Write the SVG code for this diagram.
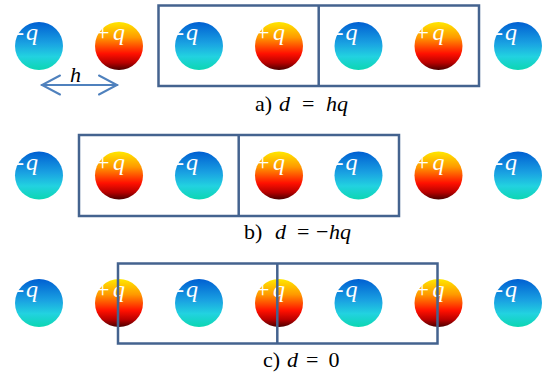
<svg xmlns="http://www.w3.org/2000/svg" width="542" height="377" viewBox="0 0 542 377" font-family="Liberation Serif" font-size="22">
<defs>
<style>
.neg{fill:url(#gBlue)}
.pos{fill:url(#gRed)}
.box{fill:none;stroke:#44638f;stroke-width:2.5}
.arr{fill:none;stroke:#4f81bd;stroke-width:2;stroke-linecap:round}
.ch{fill:#fff;font-size:24px}
.it{font-style:italic}
</style>
<linearGradient id="gBlue" x1="0" y1="0" x2="0" y2="1">
<stop offset="0" stop-color="#005fd2"/>
<stop offset="0.45" stop-color="#1aa2e2"/>
<stop offset="0.72" stop-color="#22d2e0"/>
<stop offset="1" stop-color="#0cd6b2"/>
</linearGradient>
<linearGradient id="gRed" x1="0" y1="0" x2="0" y2="1">
<stop offset="0" stop-color="#ffe800"/>
<stop offset="0.32" stop-color="#ff9a00"/>
<stop offset="0.66" stop-color="#ff1000"/>
<stop offset="0.85" stop-color="#b80000"/>
<stop offset="1" stop-color="#4a0000"/>
</linearGradient>
</defs>

<g id="row-a">
<g id="a1"><circle class="neg" cx="39" cy="46" r="24"/><text class="ch" x="16" y="40">-<tspan class="it" x="26">q</tspan></text></g>
<g id="a2"><circle class="pos" cx="119" cy="46" r="24"/><text class="ch" x="96" y="40">+<tspan class="it" x="113">q</tspan></text></g>
<g id="a3"><circle class="neg" cx="199" cy="46" r="24"/><text class="ch" x="176" y="40">-<tspan class="it" x="186">q</tspan></text></g>
<g id="a4"><circle class="pos" cx="279" cy="46" r="24"/><text class="ch" x="256" y="40">+<tspan class="it" x="273">q</tspan></text></g>
<g id="a5"><circle class="neg" cx="358.5" cy="46" r="24"/><text class="ch" x="335.5" y="40">-<tspan class="it" x="345.5">q</tspan></text></g>
<g id="a6"><circle class="pos" cx="438.5" cy="46" r="24"/><text class="ch" x="415.5" y="40">+<tspan class="it" x="432.5">q</tspan></text></g>
<g id="a7"><circle class="neg" cx="518" cy="46" r="24"/><text class="ch" x="495" y="40">-<tspan class="it" x="505">q</tspan></text></g>
</g>
<g id="row-b">
<g id="b1"><circle class="neg" cx="39" cy="175.5" r="24"/><text class="ch" x="16" y="169.5">-<tspan class="it" x="26">q</tspan></text></g>
<g id="b2"><circle class="pos" cx="119" cy="175.5" r="24"/><text class="ch" x="96" y="169.5">+<tspan class="it" x="113">q</tspan></text></g>
<g id="b3"><circle class="neg" cx="199" cy="175.5" r="24"/><text class="ch" x="176" y="169.5">-<tspan class="it" x="186">q</tspan></text></g>
<g id="b4"><circle class="pos" cx="279" cy="175.5" r="24"/><text class="ch" x="256" y="169.5">+<tspan class="it" x="273">q</tspan></text></g>
<g id="b5"><circle class="neg" cx="358.5" cy="175.5" r="24"/><text class="ch" x="335.5" y="169.5">-<tspan class="it" x="345.5">q</tspan></text></g>
<g id="b6"><circle class="pos" cx="438.5" cy="175.5" r="24"/><text class="ch" x="415.5" y="169.5">+<tspan class="it" x="432.5">q</tspan></text></g>
<g id="b7"><circle class="neg" cx="518" cy="175.5" r="24"/><text class="ch" x="495" y="169.5">-<tspan class="it" x="505">q</tspan></text></g>
</g>
<g id="row-c">
<g id="c1"><circle class="neg" cx="39" cy="303" r="24"/><text class="ch" x="16" y="297">-<tspan class="it" x="26">q</tspan></text></g>
<g id="c2"><circle class="pos" cx="119" cy="303" r="24"/><text class="ch" x="96" y="297">+<tspan class="it" x="113">q</tspan></text></g>
<g id="c3"><circle class="neg" cx="199" cy="303" r="24"/><text class="ch" x="176" y="297">-<tspan class="it" x="186">q</tspan></text></g>
<g id="c4"><circle class="pos" cx="279" cy="303" r="24"/><text class="ch" x="256" y="297">+<tspan class="it" x="273">q</tspan></text></g>
<g id="c5"><circle class="neg" cx="358.5" cy="303" r="24"/><text class="ch" x="335.5" y="297">-<tspan class="it" x="345.5">q</tspan></text></g>
<g id="c6"><circle class="pos" cx="438.5" cy="303" r="24"/><text class="ch" x="415.5" y="297">+<tspan class="it" x="432.5">q</tspan></text></g>
<g id="c7"><circle class="neg" cx="518" cy="303" r="24"/><text class="ch" x="495" y="297">-<tspan class="it" x="505">q</tspan></text></g>
</g>

<g id="cells">
<rect class="box" x="158.5" y="5.5" width="320.5" height="80.5"/>
<line class="box" x1="318.7" y1="5.5" x2="318.7" y2="86"/>
<rect class="box" x="79" y="135" width="320" height="81"/>
<line class="box" x1="238.7" y1="135" x2="238.7" y2="216"/>
<rect class="box" x="118" y="263.5" width="319.5" height="80"/>
<line class="box" x1="277.3" y1="263.5" x2="277.3" y2="343.5"/>
</g>

<g id="connectors">
<line class="arr" x1="42" y1="85" x2="117" y2="85"/>
<polyline class="arr" points="60,75.5 42,85 60,94.5"/>
<polyline class="arr" points="99,75.5 117,85 99,94.5"/>
</g>
<text class="it" x="70" y="82">h</text>

<text x="255" y="111">a)<tspan class="it" x="279">d</tspan><tspan x="302">=</tspan><tspan class="it" x="326">hq</tspan></text>
<text x="244" y="238.5">b)<tspan class="it" x="275">d</tspan><tspan x="297">=</tspan><tspan x="316">−</tspan><tspan class="it" x="329">hq</tspan></text>
<text x="263" y="366.5">c)<tspan class="it" x="287">d</tspan><tspan x="306">=</tspan><tspan x="328.5">0</tspan></text>
</svg>
